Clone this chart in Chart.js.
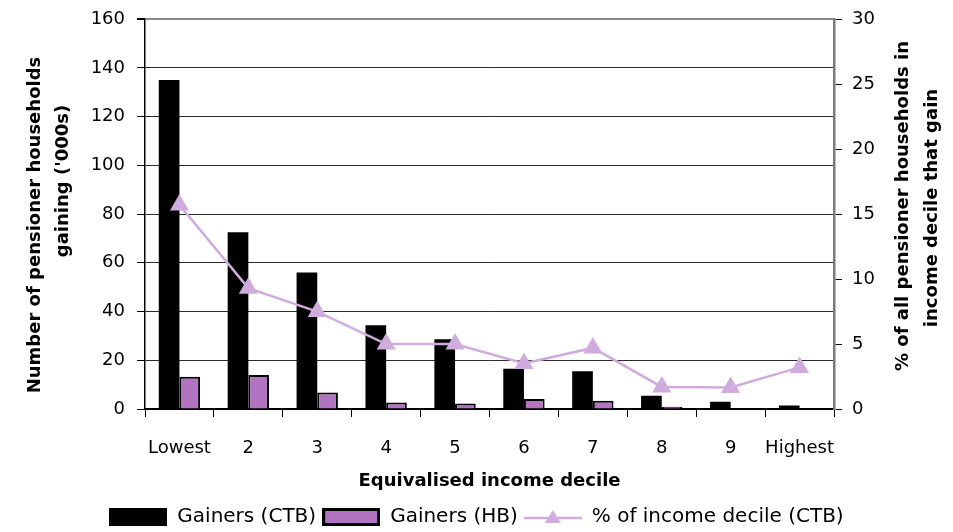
<!DOCTYPE html>
<html>
<head>
<meta charset="utf-8">
<script src="https://cdn.jsdelivr.net/npm/chart.js@4.4.0/dist/chart.umd.min.js"></script>
<style>
  html, body { margin: 0; padding: 0; background: #fff; }
</style>
</head>
<body>
<canvas id="chartDeciles" width="953" height="532"></canvas>
<script>
// Pensioner households gaining, by equivalised income decile
const deciles = ['Lowest', '2', '3', '4', '5', '6', '7', '8', '9', 'Highest'];
const gainersCTB = [135, 72.5, 56, 34.4, 28.6, 16.5, 15.5, 5.4, 3, 1.4];
const gainersHB = [13.2, 14, 6.8, 2.7, 2.3, 4.1, 3.4, 0.9, 0, 0];
const pctOfDecile = [15.7, 9.3, 7.5, 5.0, 5.0, 3.5, 4.7, 1.7, 1.65, 3.2];

const FONT = "'DejaVu Sans', sans-serif";
const HB_COLOR = '#b173c2';
const LINE_COLOR = '#d0acde';

// little canvases used as legend symbols
function legendSwatch(kind) {
  const c = document.createElement('canvas');
  c.width = 58;
  c.height = 18;
  const g = c.getContext('2d');
  if (kind === 'ctb') {
    g.fillStyle = '#000';
    g.fillRect(0, 0, 58, 18);
  } else if (kind === 'hb') {
    g.fillStyle = HB_COLOR;
    g.fillRect(0, 0, 58, 18);
    g.strokeStyle = '#000';
    g.lineWidth = 3;
    g.strokeRect(1.5, 1.5, 55, 15);
  } else {
    g.strokeStyle = LINE_COLOR;
    g.lineWidth = 2.5;
    g.beginPath();
    g.moveTo(0, 10);
    g.lineTo(58, 10);
    g.stroke();
    g.fillStyle = LINE_COLOR;
    g.beginPath();
    g.moveTo(29, 2);
    g.lineTo(37, 15);
    g.lineTo(21, 15);
    g.closePath();
    g.fill();
  }
  return c;
}

const swatches = [legendSwatch('ctb'), legendSwatch('hb'), legendSwatch('line')];

// rotated titles for both value axes
const sideTitles = {
  id: 'sideTitles',
  afterDraw(chart) {
    const ctx = chart.ctx;
    ctx.save();
    ctx.font = 'bold 18px ' + FONT;
    ctx.fillStyle = '#000';
    ctx.textAlign = 'center';
    ctx.textBaseline = 'middle';
    const lines = [
      ['Number of pensioner households', 35, 225],
      ["gaining ('000s)", 63, 181],
      ['% of all pensioner households in', 903, 206],
      ['income decile that gain', 932, 208]
    ];
    lines.forEach(([text, x, y]) => {
      ctx.save();
      ctx.translate(x, y);
      ctx.rotate(-Math.PI / 2);
      ctx.fillText(text, 0, 0);
      ctx.restore();
    });
    ctx.restore();
  }
};

const ctx = document.getElementById('chartDeciles').getContext('2d');
new Chart(ctx, {
  type: 'bar',
  data: {
    labels: deciles,
    datasets: [
      {
        label: 'Gainers (CTB)',
        data: gainersCTB,
        backgroundColor: '#000',
        borderColor: '#000',
        borderWidth: 0,
        yAxisID: 'y',
        order: 1
      },
      {
        label: 'Gainers (HB)',
        data: gainersHB,
        backgroundColor: HB_COLOR,
        borderColor: '#000',
        borderWidth: 2,
        yAxisID: 'y',
        order: 1
      },
      {
        type: 'line',
        label: '% of income decile (CTB)',
        data: pctOfDecile,
        borderColor: LINE_COLOR,
        backgroundColor: LINE_COLOR,
        borderWidth: 2.5,
        pointStyle: 'triangle',
        pointRadius: 8.5,
        pointBackgroundColor: LINE_COLOR,
        pointBorderColor: LINE_COLOR,
        tension: 0,
        yAxisID: 'y2',
        order: 0
      }
    ]
  },
  options: {
    responsive: false,
    animation: false,
    layout: { padding: { top: 0, bottom: -5, left: 0, right: 0 } },
    datasets: {
      bar: { categoryPercentage: 0.6, barPercentage: 1 }
    },
    plugins: {
      tooltip: { enabled: false },
      legend: {
        position: 'bottom',
        labels: {
          usePointStyle: true,
          pointStyleWidth: 58,
          boxHeight: 18,
          padding: 6,
          color: '#000',
          font: { family: FONT, size: 20 },
          generateLabels: function(chart) {
            return chart.data.datasets.map((ds, i) => ({
              text: ds.label,
              pointStyle: swatches[i],
              fontColor: '#000',
              hidden: false,
              datasetIndex: i
            }));
          }
        }
      }
    },
    scales: {
      x: {
        grid: {
          display: true,
          drawOnChartArea: false,
          offset: true,
          tickLength: 8,
          color: '#000'
        },
        border: { color: '#000', width: 2 },
        ticks: {
          color: '#000',
          padding: 21,
          autoSkip: false,
          maxRotation: 0,
          font: { family: FONT, size: 18 }
        },
        title: {
          display: true,
          text: 'Equivalised income decile',
          color: '#000',
          font: { family: FONT, size: 18, weight: 'bold' },
          padding: { top: 4, bottom: 9 }
        },
        afterFit: function(scale) { scale.height = 92; }
      },
      y: {
        position: 'left',
        min: 0,
        max: 160,
        ticks: {
          stepSize: 20,
          color: '#000',
          padding: 12,
          font: { family: FONT, size: 18, lineHeight: 0.8 }
        },
        grid: {
          color: c => c.tick && c.tick.value === 160 ? '#8a8a8a' : '#2b2b2b',
          lineWidth: c => c.tick && c.tick.value === 160 ? 2 : 1,
          tickColor: '#000',
          tickLength: 8
        },
        border: { color: '#000', width: 1.5 },
        afterFit: function(scale) { scale.width = 145; }
      },
      y2: {
        position: 'right',
        min: 0,
        max: 30,
        ticks: {
          stepSize: 5,
          color: '#000',
          padding: 10,
          font: { family: FONT, size: 18, lineHeight: 0.8 }
        },
        grid: {
          drawOnChartArea: false,
          tickColor: '#000',
          tickLength: 8
        },
        border: { color: '#7a7a7a', width: 2.5 },
        afterFit: function(scale) { scale.width = 119; }
      }
    }
  },
  plugins: [sideTitles]
});
</script>
</body>
</html>
